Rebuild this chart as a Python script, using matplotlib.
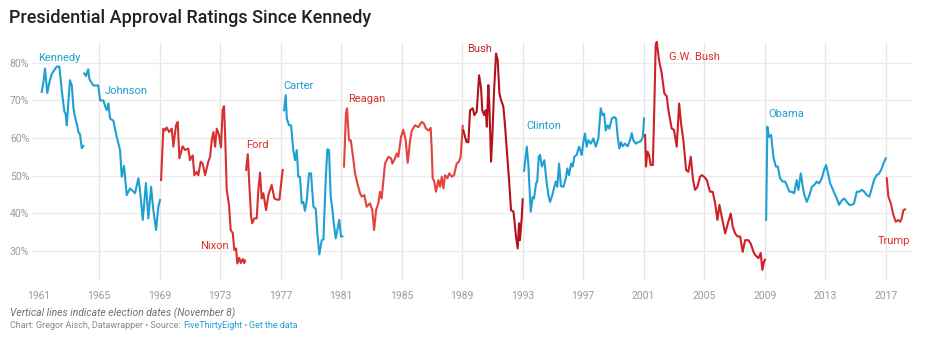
import matplotlib
matplotlib.use("Agg")
import matplotlib.pyplot as plt

plt.rcParams['font.family'] = ['Roboto', 'DejaVu Sans']

BLUE = '#1fa0d2'
RED = '#d8302f'

# approval ratings (decimal year, percent)
kennedy_x = [1961.21, 1961.33, 1961.43, 1961.58, 1961.73, 1961.87, 1962.03, 1962.20, 1962.38, 1962.54,
             1962.71, 1962.79, 1962.87, 1962.98, 1963.08, 1963.20, 1963.31, 1963.41, 1963.55, 1963.63,
             1963.74, 1963.86, 1963.96]
kennedy_y = [72.3, 75, 78.5, 72, 75, 77, 78, 79, 79, 72.5,
             67, 66.5, 63.4, 70, 75.4, 74, 68, 65.6, 63.5, 61.7,
             61, 57.3, 57.9]

johnson_x = [1964.03, 1964.09, 1964.14, 1964.22, 1964.29, 1964.35, 1964.40, 1964.62, 1964.95, 1965.07,
             1965.29, 1965.40, 1965.51, 1965.62, 1965.73, 1965.95, 1966.17, 1966.39, 1966.50, 1966.65,
             1966.83, 1967.05, 1967.38, 1967.60, 1967.71, 1967.89, 1968.10, 1968.26, 1968.44, 1968.59,
             1968.77, 1968.92, 1969.03]
johnson_y = [77.2, 76.8, 76.5, 77.5, 78.3, 76, 75.4, 74, 74, 70,
             70, 68.5, 67.4, 69.2, 65.2, 64.6, 60.3, 56.8, 49.7, 52.6,
             44.8, 46.6, 45.3, 49.3, 46, 38.2, 48, 38.6, 47, 40.8,
             35.5, 41.7, 43.5]

nixon_x = [1969.10, 1969.25, 1969.36, 1969.47, 1969.63, 1969.81, 1969.91, 1970.09, 1970.20, 1970.31,
           1970.53, 1970.68, 1970.90, 1971.01, 1971.19, 1971.30, 1971.46, 1971.56, 1971.72, 1971.85,
           1972.01, 1972.22, 1972.34, 1972.45, 1972.56, 1972.67, 1972.78, 1972.93, 1973.06, 1973.17,
           1973.26, 1973.33, 1973.44, 1973.59, 1973.70, 1973.84, 1973.94, 1974.06, 1974.14, 1974.27,
           1974.37, 1974.50, 1974.60, 1974.65]
nixon_y = [48.8, 62.5, 62, 62.8, 61.6, 62.5, 57.7, 63.4, 64.3, 54.6,
           57.8, 56.8, 57.2, 54.1, 55.4, 50.1, 51, 50.1, 53.7, 53.2,
           50.1, 53.7, 55, 59.4, 61.6, 57.7, 62.5, 60.8, 57.5, 67.4,
           68.5, 61.2, 46.2, 42.2, 35.5, 34.7, 30.2, 30.6, 26.6, 28.1,
           26.7, 27.8, 26.7, 27.4]

ford_x = [1974.72, 1974.83, 1974.93, 1975.05, 1975.13, 1975.26, 1975.42, 1975.53, 1975.64, 1975.75,
          1975.86, 1976.04, 1976.19, 1976.41, 1976.59, 1976.74, 1976.92, 1977.01, 1977.14]
ford_y = [51.5, 55.7, 47.9, 39, 37.3, 38.6, 38.6, 46.2, 50.8, 43.9,
          45.3, 40.8, 44.8, 47.5, 43.9, 43.6, 43.6, 47, 51.5]

carter_x = [1977.23, 1977.34, 1977.41, 1977.56, 1977.69, 1977.84, 1977.95, 1978.07, 1978.17, 1978.28,
            1978.40, 1978.50, 1978.61, 1978.73, 1978.88, 1979.01, 1979.17, 1979.32, 1979.43, 1979.56,
            1979.72, 1979.83, 1979.98, 1980.09, 1980.20, 1980.31, 1980.42, 1980.49, 1980.64, 1980.75,
            1980.88, 1980.99, 1981.08]
carter_y = [67.4, 71.4, 65.2, 63.4, 63.4, 56.8, 54.1, 56.8, 49.7, 49.7,
            42.6, 43, 40.6, 43.4, 50.6, 50.6, 41.7, 41.2, 34.6, 29,
            32.8, 33, 48.8, 57, 56.8, 44.4, 41.2, 38.2, 33.3, 35.5,
            38.2, 33.8, 33.8]

reagan_x = [1981.19, 1981.32, 1981.39, 1981.52, 1981.64, 1981.77, 1981.92, 1982.10, 1982.25, 1982.36,
            1982.53, 1982.69, 1982.91, 1983.06, 1983.18, 1983.31, 1983.46, 1983.57, 1983.68, 1983.90,
            1984.12, 1984.30, 1984.39, 1984.56, 1984.68, 1984.78, 1984.96, 1985.11, 1985.27, 1985.40,
            1985.56, 1985.67, 1985.89, 1986.10, 1986.33, 1986.48, 1986.61, 1986.77, 1986.92, 1986.99,
            1987.05, 1987.16, 1987.27, 1987.43, 1987.54, 1987.65, 1987.76, 1987.87, 1988.02, 1988.15,
            1988.31, 1988.46, 1988.64, 1988.79, 1988.90, 1989.04]
reagan_y = [52.4, 66.5, 67.9, 59.4, 59.4, 55.5, 50.6, 47.5, 45.3, 44.4,
            44.8, 41.7, 42.6, 40.8, 35.5, 40.8, 42.6, 45.7, 43.9, 53.2,
            55, 54.6, 53.2, 54.6, 55.9, 55, 60.3, 62.2, 59.4, 53.4,
            59.4, 62, 63.4, 62.9, 64.3, 63.8, 62.5, 62, 62.7, 56.8,
            49.3, 48.4, 45.7, 48.8, 47, 49.7, 46.6, 50.1, 49.3, 50.6,
            49.7, 50.1, 53.2, 53.7, 55, 63.2]

bush_x = [1989.08, 1989.19, 1989.30, 1989.41, 1989.52, 1989.70, 1989.81, 1989.96, 1990.12, 1990.25,
          1990.33, 1990.45, 1990.56, 1990.63, 1990.73, 1990.80, 1990.91, 1991.00, 1991.11, 1991.24,
          1991.35, 1991.46, 1991.57, 1991.72, 1991.84, 1991.95, 1992.10, 1992.23, 1992.39, 1992.45,
          1992.56, 1992.67, 1992.76, 1992.82, 1992.94, 1993.00]
bush_y = [62, 60.3, 58.9, 58.9, 67.4, 67.9, 66.1, 67, 76.7, 73.2,
          67.4, 66.1, 67.4, 63, 74.1, 68.4, 53.7, 61.1, 72.7, 82.5,
          80.7, 71.9, 70.1, 68.4, 63, 56.8, 48.8, 40.8, 40.4, 38.2,
          33.7, 30.6, 37.3, 32.8, 39, 43.7]

clinton_x = [1993.09, 1993.27, 1993.37, 1993.53, 1993.66, 1993.75, 1993.88, 1993.96, 1994.06, 1994.15,
             1994.26, 1994.43, 1994.59, 1994.70, 1994.81, 1994.96, 1995.09, 1995.18, 1995.29, 1995.40,
             1995.53, 1995.69, 1995.85, 1995.95, 1996.06, 1996.20, 1996.31, 1996.41, 1996.57, 1996.72,
             1996.84, 1996.90, 1997.01, 1997.12, 1997.23, 1997.34, 1997.50, 1997.67, 1997.83, 1998.00,
             1998.16, 1998.27, 1998.38, 1998.49, 1998.62, 1998.73, 1998.89, 1999.06, 1999.17, 1999.28,
             1999.39, 1999.50, 1999.61, 1999.76, 1999.94, 2000.09, 2000.21, 2000.31, 2000.47, 2000.64,
             2000.82, 2000.94, 2001.02]
clinton_y = [51.3, 57.7, 53.2, 40.4, 44.3, 43.9, 47.9, 48.4, 55, 55.5,
             52.4, 54.1, 47.9, 44.8, 43, 44.8, 47, 48.4, 47, 53.2,
             47.2, 47, 49.3, 51.9, 50.1, 53.2, 52.4, 55, 55.5, 57.7,
             56.4, 55.5, 58.9, 61.2, 57.7, 59.4, 58.5, 59.9, 57.7, 59.9,
             67.9, 66.1, 66.5, 62, 63.4, 62.5, 65.2, 65.6, 65.2, 60.3,
             57.2, 58.9, 57.8, 58.5, 57.8, 59.4, 61.3, 59.4, 58.5, 58.9,
             59.2, 60.3, 65.2]

gwbush_x = [2001.09, 2001.15, 2001.24, 2001.35, 2001.46, 2001.60, 2001.70, 2001.79, 2001.86, 2002.01,
            2002.19, 2002.36, 2002.52, 2002.63, 2002.85, 2003.00, 2003.18, 2003.34, 2003.47, 2003.62,
            2003.80, 2003.95, 2004.11, 2004.26, 2004.39, 2004.55, 2004.72, 2004.84, 2004.99, 2005.17,
            2005.38, 2005.56, 2005.72, 2005.87, 2006.00, 2006.16, 2006.38, 2006.59, 2006.75, 2006.88,
            2007.04, 2007.19, 2007.37, 2007.54, 2007.70, 2007.92, 2008.07, 2008.25, 2008.36, 2008.58,
            2008.73, 2008.84, 2008.95, 2009.02]
gwbush_y = [60.8, 52.4, 56.4, 55.5, 52.8, 52.8, 68.3, 84.7, 85.6, 80.7,
            77.2, 71.9, 71.1, 67.4, 62.5, 62.2, 57.7, 69.2, 63.8, 59.4,
            51.5, 51, 55, 48.8, 46.2, 47, 49.7, 50.1, 49.7, 48.8,
            45.7, 45.7, 42.6, 38.2, 42.2, 39, 34.6, 37.7, 39.9, 36.4,
            34.6, 33.8, 33.8, 29.7, 32.8, 32.8, 31.9, 29.7, 28.9, 28,
            29.4, 24.9, 27.1, 27.6]

obama_x = [2009.09, 2009.17, 2009.28, 2009.42, 2009.57, 2009.73, 2009.86, 2010.01, 2010.19, 2010.34,
           2010.45, 2010.63, 2010.78, 2010.94, 2011.11, 2011.22, 2011.38, 2011.51, 2011.62, 2011.78,
           2011.95, 2012.11, 2012.26, 2012.44, 2012.59, 2012.77, 2012.92, 2013.05, 2013.16, 2013.32,
           2013.47, 2013.60, 2013.76, 2013.91, 2014.09, 2014.26, 2014.42, 2014.59, 2014.75, 2014.90,
           2015.08, 2015.25, 2015.41, 2015.58, 2015.74, 2015.91, 2016.07, 2016.22, 2016.40, 2016.57,
           2016.73, 2016.84, 2017.00]
obama_y = [38.2, 63, 60.3, 60.8, 55, 52.4, 52.4, 49.3, 48.4, 48.4,
           47.5, 45.7, 45.7, 45.3, 48.8, 46.2, 50.6, 47, 44.8, 43,
           44.8, 47, 47.5, 48.4, 47.9, 49.3, 51.5, 52.8, 51, 47.9,
           46.6, 45.3, 43.9, 42.2, 43.4, 43.9, 43, 42.2, 42.2, 42.6,
           45.7, 45.7, 46.2, 45.7, 44.8, 44.4, 46.6, 48.8, 50.1, 50.6,
           51.9, 53.2, 54.6]

trump_x = [2017.06, 2017.17, 2017.33, 2017.50, 2017.66, 2017.81, 2017.94, 2018.05, 2018.16, 2018.27]
trump_y = [49.3, 44.4, 42.6, 39.5, 37.7, 38.2, 37.7, 38.6, 40.8, 41]

series = [
    ('Kennedy', kennedy_x, kennedy_y, BLUE),
    ('Johnson', johnson_x, johnson_y, BLUE),
    ('Nixon', nixon_x, nixon_y, RED),
    ('Ford', ford_x, ford_y, RED),
    ('Carter', carter_x, carter_y, BLUE),
    ('Reagan', reagan_x, reagan_y, '#e4433d'),
    ('Bush', bush_x, bush_y, '#b5121b'),
    ('Clinton', clinton_x, clinton_y, BLUE),
    ('G.W. Bush', gwbush_x, gwbush_y, '#cf2027'),
    ('Obama', obama_x, obama_y, BLUE),
    ('Trump', trump_x, trump_y, RED),
]

# where each name sits (left edge year, percent)
label_pos = {
    'Kennedy': (1961.0, 81.4), 'Johnson': (1965.35, 72.5), 'Nixon': (1971.68, 31.2),
    'Ford': (1974.72, 58.1), 'Carter': (1977.2, 73.9), 'Reagan': (1981.46, 70.5),
    'Bush': (1989.3, 83.8), 'Clinton': (1993.22, 63.3), 'G.W. Bush': (2002.69, 81.6),
    'Obama': (2009.22, 66.5), 'Trump': (2016.47, 32.6),
}

tick_years = [1961, 1965, 1969, 1973, 1977, 1981, 1985, 1989, 1993, 1997, 2001, 2005, 2009, 2013, 2017]
y_ticks = [30, 40, 50, 60, 70, 80]

fig = plt.figure(figsize=(9.31, 3.48), dpi=100)
W, H = 931, 348
ax = fig.add_axes([32 / W, 1 - 280 / H, (912 - 32) / W, (280 - 43) / H])

for name, xs, ys, c in series:
    ax.plot(xs, ys, color=c, lw=1.5, solid_joinstyle='round', clip_on=False, zorder=3)
    lx, ly = label_pos[name]
    lc = BLUE if c == BLUE else ('#c4252a' if name == 'Bush' else RED)
    ax.text(lx, ly, name, color=lc, fontsize=8, ha='left', va='center', zorder=4)

for yr in tick_years[1:]:
    ax.axvline(yr, color='#e6e6e6', lw=1, zorder=1)
for v in y_ticks:
    ax.axhline(v, color='#ececec', lw=1, zorder=1)

ax.set_xlim(1960.57, 2018.73)
ax.set_ylim(22.2, 85.3)
ax.set_xticks(tick_years)
ax.set_xticklabels([str(y) for y in tick_years])
ax.set_yticks(y_ticks)
ax.set_yticklabels([f'{v}%' for v in y_ticks])
ax.tick_params(length=0, labelsize=7.5, colors='#999999')
ax.tick_params(axis='x', pad=8)
ax.tick_params(axis='y', pad=2)
for s in ax.spines.values():
    s.set_visible(False)

fig.text(9 / W, 1 - 18 / H, 'Presidential Approval Ratings Since Kennedy', fontsize=13,
         fontweight='medium', color='#222222', ha='left', va='center')
fig.text(10 / W, 1 - 313 / H, 'Vertical lines indicate election dates (November 8)', fontsize=7.5,
         style='italic', color='#707070', ha='left', va='center')

t = fig.text(10 / W, 1 - 326 / H, 'Chart: Gregor Aisch, Datawrapper \u2022 Source: ', fontsize=6.5,
             color='#8a8a8a', ha='left', va='center')
for piece, c in [('FiveThirtyEight', BLUE), (' \u2022 ', '#8a8a8a'), ('Get the data', BLUE)]:
    t = ax.annotate(piece, xy=(1, 0.5), xycoords=t, fontsize=6.5, color=c, ha='left', va='center',
                    annotation_clip=False)

fig.savefig('out.png', dpi=100, facecolor='white')
